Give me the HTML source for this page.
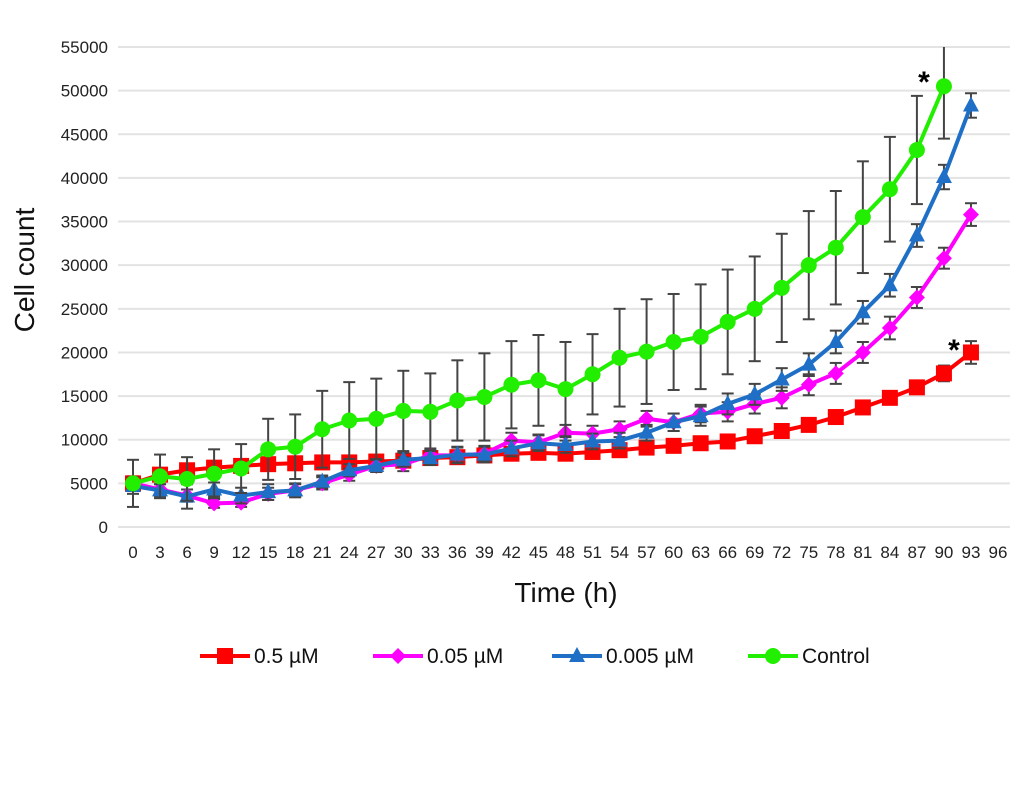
<!DOCTYPE html>
<html><head><meta charset="utf-8"><style>
body{margin:0;background:#fff;font-family:"Liberation Sans",Arial,sans-serif}
svg text{font-family:"Liberation Sans",Arial,sans-serif}
</style></head><body>
<svg id="chart" width="1036" height="801" xmlns="http://www.w3.org/2000/svg">
<rect width="1036" height="801" fill="#fff"/>
<g id="grid"></g>
<g id="yt" font-size="17" fill="#222" text-anchor="end"></g>
<g id="xt" font-size="17" fill="#222" text-anchor="middle"></g>
<text x="0" y="0" transform="translate(34,270) rotate(-90)" font-size="28" text-anchor="middle" fill="#111">Cell count</text>
<text x="566" y="602" font-size="28" text-anchor="middle" fill="#111">Time (h)</text>
<g id="series"></g>
<text x="924" y="92" font-size="30" font-weight="bold" text-anchor="middle">*</text>
<text x="954" y="360" font-size="30" font-weight="bold" text-anchor="middle">*</text>
<g id="legend"></g>
</svg>
<script>
const times=[0,3,6,9,12,15,18,21,24,27,30,33,36,39,42,45,48,51,54,57,60,63,66,69,72,75,78,81,84,87,90,93];
const xTicks=[0,3,6,9,12,15,18,21,24,27,30,33,36,39,42,45,48,51,54,57,60,63,66,69,72,75,78,81,84,87,90,93,96];
const yTicks=[0,5000,10000,15000,20000,25000,30000,35000,40000,45000,50000,55000];
const red=[5000,6000,6500,6800,7000,7200,7300,7400,7400,7500,7600,7900,8000,8200,8400,8500,8400,8600,8800,9100,9300,9600,9800,10400,11000,11700,12600,13700,14800,16000,17600,20000];
const redErr=[800,700,700,600,600,600,600,500,500,500,500,500,500,500,500,500,500,500,500,500,500,500,500,500,500,500,500,500,600,700,900,1300];
const magenta=[5000,4300,3600,2700,2800,3800,4200,5000,6000,7000,7200,8200,8200,8400,9900,9700,10800,10700,11200,12400,12000,13000,13200,14100,14800,16300,17600,20000,22800,26300,30800,35800];
const magentaErr=[700,600,700,500,500,700,700,700,700,700,800,800,900,900,900,900,900,900,900,900,1000,1000,1100,1100,1200,1200,1200,1200,1300,1200,1200,1300];
const blue=[4700,4200,3500,4300,3600,4000,4200,5200,6500,7000,7700,7900,8300,8300,9000,9600,9400,9800,9900,10800,12000,12700,14100,15200,16900,18600,21200,24600,27700,33400,40100,48300];
const blueErr=[900,700,1400,800,900,900,800,700,700,700,800,800,900,900,900,900,900,900,900,900,1000,1100,1200,1200,1300,1300,1300,1300,1300,1300,1400,1400];
const green=[5000,5800,5500,6100,6700,8900,9200,11200,12200,12400,13300,13200,14500,14900,16300,16800,15800,17500,19400,20100,21200,21800,23500,25000,27400,30000,32000,35500,38700,43200,50500];
const greenErr=[2700,2500,2500,2800,2800,3500,3700,4400,4400,4600,4600,4400,4600,5000,5000,5200,5400,4600,5600,6000,5500,6000,6000,6000,6200,6200,6500,6400,6000,6200,6000];
const NS="http://www.w3.org/2000/svg";
const X=t=>133+(t/96)*865;
const Y=v=>527-(v/55000)*480;
function mk(tag,at,parent){const e=document.createElementNS(NS,tag);for(const k in at)e.setAttribute(k,at[k]);parent.appendChild(e);return e;}
const grid=document.getElementById('grid'),yt=document.getElementById('yt'),xt=document.getElementById('xt');
yTicks.forEach(v=>{
 const l=mk('line',{x1:118,x2:1010,y1:Y(v),y2:Y(v),stroke:'#e3e3e3','stroke-width':2},grid);
 
 
 const t=mk('text',{x:108,y:Y(v)+6},yt);t.textContent=v;
 
 
});
xTicks.forEach(v=>{
 const t=mk('text',{x:X(v),y:558},xt);t.textContent=v;
 
 
});
const S=document.getElementById('series');
function marker(type,x,y,c,g){
 let m;
 if(type==='sq')m=mk('rect',{x:x-8,y:y-8,width:16,height:16,fill:c},g);
 else if(type==='dia')m=mk('polygon',{points:`${x},${y-8} ${x+8},${y} ${x},${y+8} ${x-8},${y}`,fill:c},g);
 else if(type==='tri')m=mk('polygon',{points:`${x},${y-9} ${x+8},${y+6} ${x-8},${y+6}`,fill:c},g);
 else m=mk('circle',{cx:x,cy:y,r:8,fill:c},g);
 return m;
}
function draw(name,vals,errs,color,type){
 const g=mk('g',{},S);
 
 
 vals.forEach((v,i)=>{
  const x=X(times[i]);const top=Math.min(v+errs[i],55000),bot=v-errs[i];
  const e=mk('g',{stroke:'#444','stroke-width':2},g);
  
  
  mk('line',{x1:x,x2:x,y1:Y(top),y2:Y(bot)},e);
  if(v+errs[i]<=55000)mk('line',{x1:x-6,x2:x+6,y1:Y(top),y2:Y(top)},e);
  mk('line',{x1:x-6,x2:x+6,y1:Y(bot),y2:Y(bot)},e);
 });
 const p=mk('polyline',{points:vals.map((v,i)=>X(times[i])+','+Y(v)).join(' '),fill:'none',stroke:color,'stroke-width':4,'stroke-linejoin':'round'},g);
 
 
 vals.forEach((v,i)=>{
  const m=marker(type,X(times[i]),Y(v),color,g);
  
  
 });
}
draw('red-0.5uM',red,redErr,'#ff0000','sq');
draw('magenta-0.05uM',magenta,magentaErr,'#ff00ff','dia');
draw('blue-0.005uM',blue,blueErr,'#1f6fc6','tri');
draw('control',green,greenErr,'#22ee00','circ');
const L=document.getElementById('legend');
[['0.5 µM','#ff0000','sq',200],['0.05 µM','#ff00ff','dia',373],['0.005 µM','#1f6fc6','tri',552],['Control','#22ee00','circ',748]].forEach(d=>{
 const g=mk('g',{},L);
 
 
 mk('line',{x1:d[3],x2:d[3]+50,y1:656,y2:656,stroke:d[1],'stroke-width':4},g);
 marker(d[2],d[3]+25,656,d[1],g);
 const t=mk('text',{x:d[3]+54,y:663,'font-size':21,fill:'#111'},g);t.textContent=d[0];
});
</script>
</body></html>
